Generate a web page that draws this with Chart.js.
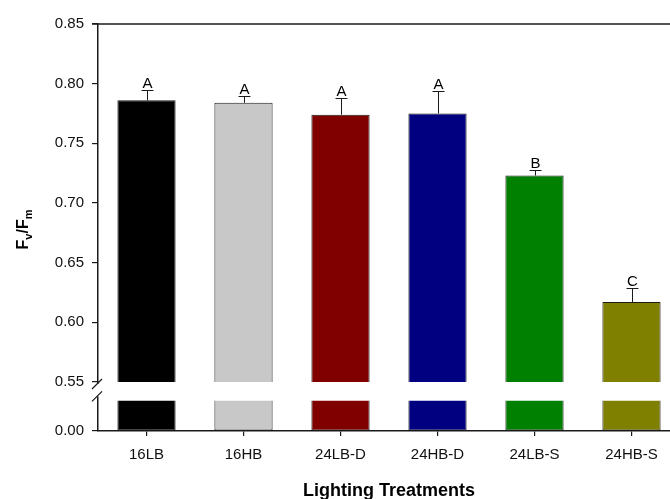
<!DOCTYPE html>
<html>
<head>
<meta charset="utf-8">
<script src="https://cdn.jsdelivr.net/npm/chart.js@4/dist/chart.umd.min.js"></script>
<style>
  html, body { margin: 0; padding: 0; background: #fff; overflow: hidden; }
  #wrap { width: 700px; height: 499px; }
</style>
</head>
<body>
<div id="wrap"><canvas id="c" width="700" height="499"></canvas></div>
<script>
// data
const categories = ["16LB", "16HB", "24LB-D", "24HB-D", "24LB-S", "24HB-S"];
const means = [0.786, 0.784, 0.774, 0.775, 0.723, 0.617];
const errors = [0.009, 0.006, 0.014, 0.019, 0.005, 0.012];
const letters = ["A", "A", "A", "A", "B", "C"];
const barColors = ["#000000", "#c8c8c8", "#800000", "#000080", "#008000", "#808000"];

// broken y axis: upper part 0.55..0.85, lower stub only shows 0.00
const upperTicks = [0.55, 0.60, 0.65, 0.70, 0.75, 0.80, 0.85];
const lowerTicks = [0.00];
const LOW_MAX = 0.04;
const LOW_TOP = 0.025; // height of the stub under the break

const AXIS = "#1a1a1a";
const FONT = "'Liberation Sans', Arial, sans-serif";

const el = (id) => document.getElementById(id);

// error bars + letters
const errorPlugin = {
  id: "errorPlugin",
  afterDatasetsDraw(chart) {
    const { ctx } = chart;
    const meta = chart.getDatasetMeta(1);
    const y = chart.scales.y;
    ctx.save();
    ctx.strokeStyle = AXIS;
    ctx.lineWidth = 1;
    ctx.fillStyle = "#000";
    ctx.font = "15px " + FONT;
    ctx.textAlign = "center";
    ctx.textBaseline = "alphabetic";
    meta.data.forEach((bar, i) => {
      const x = Math.round(bar.x) + 0.5;
      const yTop = y.getPixelForValue(means[i]);
      const yErr = Math.round(y.getPixelForValue(means[i] + errors[i])) + 0.5;
      ctx.beginPath();
      ctx.moveTo(x, yTop);
      ctx.lineTo(x, yErr);
      ctx.moveTo(x - 6, yErr);
      ctx.lineTo(x + 6, yErr);
      ctx.stroke();
      ctx.fillText(letters[i], x, yErr - 3);
    });
    ctx.restore();
  }
};

// top frame line, axis break, y title
const framePlugin = {
  id: "framePlugin",
  afterDraw(chart) {
    const { ctx, chartArea } = chart;
    const y = chart.scales.y;
    const yLow = chart.scales.yLow;
    const ax = chartArea.left;
    ctx.save();

    // top line
    ctx.strokeStyle = AXIS;
    ctx.lineWidth = 1.5;
    ctx.beginPath();
    ctx.moveTo(ax - 6, chartArea.top);
    ctx.lineTo(chartArea.right, chartArea.top);
    ctx.stroke();

    // break in the y axis
    const yb1 = y.getPixelForValue(0.55) + 1;
    const yb2 = yLow.getPixelForValue(LOW_TOP) - 1;
    ctx.fillStyle = "#fff";
    ctx.fillRect(ax - 3, yb1 + 1, 6, yb2 - yb1 - 4);
    ctx.lineWidth = 1.2;
    [yb1 + 1, yb2 - 3].forEach(yy => {
      ctx.beginPath();
      ctx.moveTo(ax - 6, yy + 5);
      ctx.lineTo(ax + 4, yy - 5);
      ctx.stroke();
    });

    // y title F_v/F_m
    ctx.translate(22, (chartArea.top + chartArea.bottom) / 2 + 2);
    ctx.rotate(-Math.PI / 2);
    ctx.fillStyle = "#000";
    ctx.textBaseline = "alphabetic";
    const parts = [
      ["F", "bold 16px " + FONT, 0],
      ["v", "bold 11px " + FONT, 4],
      ["/F", "bold 16px " + FONT, 0],
      ["m", "bold 11px " + FONT, 4]
    ];
    let w = 0;
    parts.forEach(p => { ctx.font = p[1]; w += ctx.measureText(p[0]).width; });
    let x = -w / 2;
    parts.forEach(p => {
      ctx.font = p[1];
      ctx.fillText(p[0], x, 6 + p[2]);
      x += ctx.measureText(p[0]).width;
    });
    ctx.restore();
  }
};

const yCommon = {
  type: "linear",
  position: "left",
  stack: "left",
  grid: { drawOnChartArea: false, drawTicks: true, tickLength: 6, color: AXIS, lineWidth: 1.2 },
  border: { display: true, color: AXIS, width: 1.5 },
  ticks: { color: "#111", font: { size: 15, family: FONT }, padding: 8, callback: v => Number(v).toFixed(2) },
  afterFit: (s) => { s.width = 98; }
};

new Chart(el("c"), {
  type: "bar",
  data: {
    labels: categories,
    datasets: [
      {
        // stub below the break
        data: categories.map(() => [0, LOW_TOP]),
        yAxisID: "yLow",
        backgroundColor: barColors,
        borderColor: AXIS,
        borderWidth: 1,
        borderSkipped: "top",
        barPercentage: 0.6,
        categoryPercentage: 1,
        grouped: false
      },
      {
        data: means,
        yAxisID: "y",
        backgroundColor: barColors,
        borderColor: AXIS,
        borderWidth: 1,
        barPercentage: 0.6,
        categoryPercentage: 1,
        grouped: false
      }
    ]
  },
  options: {
    responsive: false,
    animation: false,
    layout: { padding: { top: 24, right: 20, left: 0, bottom: 0 } },
    plugins: { legend: { display: false }, tooltip: { enabled: false } },
    scales: {
      x: {
        type: "category",
        grid: { offset: false, drawOnChartArea: false, drawTicks: true, tickLength: 5, color: AXIS, lineWidth: 1.2 },
        border: { display: true, color: AXIS, width: 1.5 },
        ticks: { color: "#111", font: { size: 15, family: FONT }, padding: 10, maxRotation: 0 },
        title: {
          display: true,
          text: "Lighting Treatments",
          color: "#000",
          font: { size: 18, weight: "bold", family: FONT },
          padding: { top: 0, bottom: -3 }
        },
        afterFit: (s) => { s.height = 68; }
      },
      yLow: Object.assign({}, yCommon, {
        min: 0,
        max: LOW_MAX,
        stackWeight: 49,
        afterBuildTicks: (s) => { s.ticks = lowerTicks.map(v => ({ value: v })); }
      }),
      y: Object.assign({}, yCommon, {
        min: 0.55,
        max: 0.85,
        stackWeight: 358,
        afterBuildTicks: (s) => { s.ticks = upperTicks.map(v => ({ value: v })); }
      })
    }
  },
  plugins: [errorPlugin, framePlugin]
});
</script>
</body>
</html>
